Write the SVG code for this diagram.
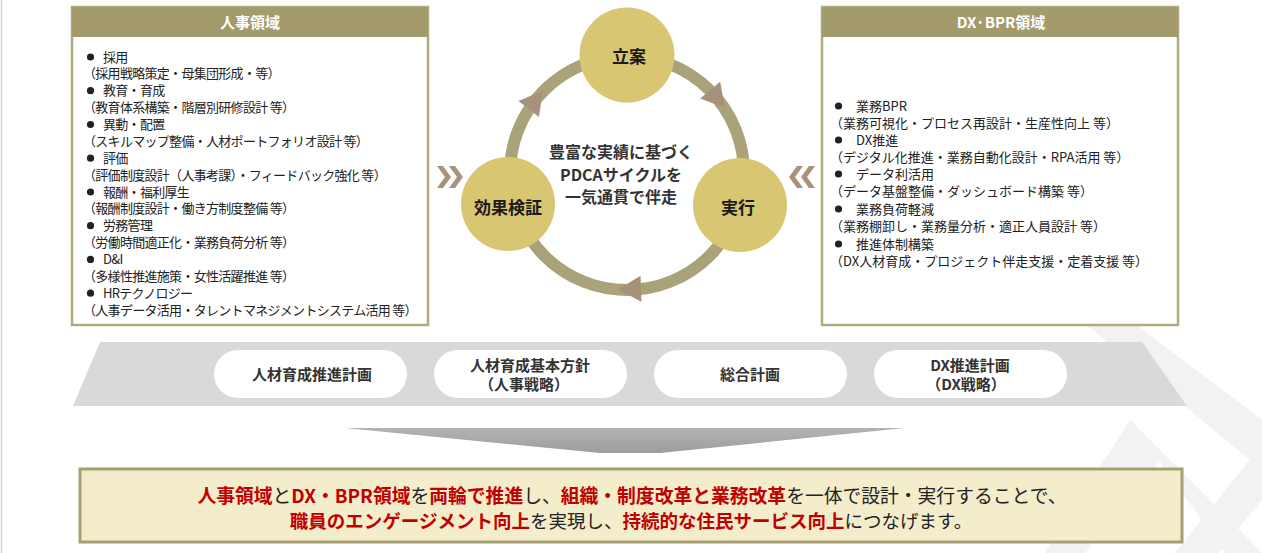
<svg xmlns="http://www.w3.org/2000/svg" width="1262" height="553" viewBox="0 0 1262 553">
<defs>
<style>
.jp{font-family:"Noto Sans CJK JP","Noto Sans",sans-serif;}
.box{fill:#ffffff;stroke:#b3ab80;stroke-width:2.5;}
.hdr{fill:#a39b6b;}
.hdrt{font-size:15px;font-weight:700;fill:#ffffff;text-anchor:middle;}
.li{font-size:13px;fill:#222222;letter-spacing:-0.7px;}
.ri{font-size:13px;fill:#222222;}
.bul{fill:#222222;}
.node{fill:#d8c672;}
.nodet{font-size:17px;font-weight:700;fill:#1a1a1a;text-anchor:middle;}
.ring{fill:none;stroke:#aaa37a;stroke-width:12;}
.ah{fill:#a8917a;}
.chev{fill:#a8927a;}
.pill{fill:#ffffff;}
.pillt{font-size:15px;font-weight:700;fill:#333333;text-anchor:middle;}
.red{fill:#c00000;font-weight:700;}
.blk{fill:#222222;font-weight:400;}
.wm{fill:#f2f2f2;}
</style>
<linearGradient id="dg" x1="0" y1="0" x2="0" y2="1">
<stop offset="0" stop-color="#b3b3b3"/>
<stop offset="1" stop-color="#9d9d9d"/>
</linearGradient>
</defs>
<rect x="0" y="0" width="1262" height="553" fill="#ffffff"/>
<line x1="1.5" y1="0" x2="1.5" y2="553" stroke="#d6d6d6" stroke-width="1.5"/>

<!-- watermark -->
<g id="watermark">
<polygon class="wm" points="1088,326 1138,326 1262,420 1262,470"/>
<polygon class="wm" points="1130,420 1165,455 1085,553 1045,553"/>
<polygon class="wm" points="1130,420 1165,455 1262,553 1225,553"/>
<polygon class="wm" points="1262,445 1262,500 1218,553 1175,553"/>
</g>

<!-- left box -->
<g id="hr-domain">
<rect class="box" x="72" y="7" width="356" height="318"/>
<rect class="hdr" x="72" y="7" width="356" height="30"/>
<text class="jp hdrt" x="250" y="28">人事領域</text>
<g class="jp li">
<circle class="bul" cx="90.5" cy="57" r="3.6"/>
<text x="103" y="61.5">採用</text>
<text x="83" y="78.4">（採用戦略策定・母集団形成・等）</text>
<circle class="bul" cx="90.5" cy="90.7" r="3.6"/>
<text x="103" y="95.2">教育・育成</text>
<text x="83" y="112.1">（教育体系構築・階層別研修設計 等）</text>
<circle class="bul" cx="90.5" cy="124.5" r="3.6"/>
<text x="103" y="129">異動・配置</text>
<text x="83" y="145.8">（スキルマップ整備・人材ポートフォリオ設計 等）</text>
<circle class="bul" cx="90.5" cy="158.2" r="3.6"/>
<text x="103" y="162.7">評価</text>
<text x="83" y="179.6">（評価制度設計（人事考課）・フィードバック強化 等）</text>
<circle class="bul" cx="90.5" cy="192" r="3.6"/>
<text x="103" y="196.5">報酬・福利厚生</text>
<text x="83" y="213.3">（報酬制度設計・働き方制度整備 等）</text>
<circle class="bul" cx="90.5" cy="225.7" r="3.6"/>
<text x="103" y="230.2">労務管理</text>
<text x="83" y="247.1">（労働時間適正化・業務負荷分析 等）</text>
<circle class="bul" cx="90.5" cy="259.4" r="3.6"/>
<text x="103" y="263.9">D&amp;I</text>
<text x="83" y="280.8">（多様性推進施策・女性活躍推進 等）</text>
<circle class="bul" cx="90.5" cy="293.2" r="3.6"/>
<text x="103" y="297.7">HRテクノロジー</text>
<text x="83" y="314.5">（人事データ活用・タレントマネジメントシステム活用 等）</text>
</g>
</g>

<!-- right box -->
<g id="dx-domain">
<rect class="box" x="822" y="7" width="356" height="318"/>
<rect class="hdr" x="822" y="7" width="356" height="30"/>
<text class="jp hdrt" x="1001" y="28">DX·BPR領域</text>
<g class="jp ri">
<circle class="bul" cx="838.5" cy="106" r="3.6"/>
<text x="856" y="110.5">業務BPR</text>
<text x="830" y="127.5">（業務可視化・プロセス再設計・生産性向上 等）</text>
<circle class="bul" cx="838.5" cy="140" r="3.6"/>
<text x="856" y="144.5">DX推進</text>
<text x="830" y="161.5">（デジタル化推進・業務自動化設計・RPA活用 等）</text>
<circle class="bul" cx="838.5" cy="174" r="3.6"/>
<text x="856" y="178.5">データ利活用</text>
<text x="830" y="195.5">（データ基盤整備・ダッシュボード構築 等）</text>
<circle class="bul" cx="838.5" cy="209" r="3.6"/>
<text x="856" y="213.5">業務負荷軽減</text>
<text x="830" y="230.5">（業務棚卸し・業務量分析・適正人員設計 等）</text>
<circle class="bul" cx="838.5" cy="244" r="3.6"/>
<text x="856" y="248.5">推進体制構築</text>
<text x="830" y="265.5">（DX人材育成・プロジェクト伴走支援・定着支援 等）</text>
</g>
</g>

<!-- connectors: PDCA ring, arrowheads, chevrons -->
<g id="connectors">
<circle class="ring" cx="627" cy="173" r="117"/>
<polygon class="ah" points="13,0 -10,-13 -10,13" transform="translate(716.6,97.8) rotate(50)"/>
<polygon class="ah" points="13,0 -10,-13 -10,13" transform="translate(631,289) rotate(178)"/>
<polygon class="ah" points="13,0 -10,-13 -10,13" transform="translate(534.8,101) rotate(308)"/>
<polygon class="chev" points="437,166 443,166 451,177 443,188 437,188 445,177"/>
<polygon class="chev" points="449,166 455,166 463,177 455,188 449,188 457,177"/>
<polygon class="chev" points="815,166 809,166 801,177 809,188 815,188 807,177"/>
<polygon class="chev" points="803,166 797,166 789,177 797,188 803,188 795,177"/>
</g>

<g id="center-label">
<text class="jp" x="621" y="158" font-size="16" font-weight="700" fill="#333333" text-anchor="middle">豊富な実績に基づく</text>
<text class="jp" x="621" y="181" font-size="16" font-weight="700" fill="#333333" text-anchor="middle">PDCAサイクルを</text>
<text class="jp" x="621" y="203" font-size="16" font-weight="700" fill="#333333" text-anchor="middle">一気通貫で伴走</text>
</g>

<g id="node-plan">
<circle class="node" cx="627" cy="55" r="47.5"/>
<text class="jp nodet" x="629" y="63">立案</text>
</g>
<g id="node-do">
<circle class="node" cx="740" cy="205" r="47"/>
<text class="jp nodet" x="738" y="214">実行</text>
</g>
<g id="node-check">
<circle class="node" cx="508" cy="204" r="47"/>
<text class="jp nodet" x="508" y="214">効果検証</text>
</g>

<!-- plan band -->
<g id="plan-band">
<polygon points="73,406 100,342 1142,342 1187,406" fill="#d9d9d9"/>
</g>
<g id="pill-1">
<rect class="pill" x="214" y="350" width="193" height="48" rx="24"/>
<text class="jp pillt" x="312" y="380">人材育成推進計画</text>
</g>
<g id="pill-2">
<rect class="pill" x="434" y="350" width="193" height="48" rx="24"/>
<text class="jp pillt" x="530" y="371">人材育成基本方針</text>
<text class="jp pillt" x="524" y="390">（人事戦略）</text>
</g>
<g id="pill-3">
<rect class="pill" x="654" y="350" width="193" height="48" rx="24"/>
<text class="jp pillt" x="750" y="380">総合計画</text>
</g>
<g id="pill-4">
<rect class="pill" x="874" y="350" width="193" height="48" rx="24"/>
<text class="jp pillt" x="970" y="371">DX推進計画</text>
<text class="jp pillt" x="966" y="390">（DX戦略）</text>
</g>

<g id="down-arrow">
<polygon points="345,428 905,428 660,453 600,453" fill="url(#dg)"/>
</g>

<g id="summary">
<rect x="80" y="469" width="1102" height="73" fill="#f3edcb" stroke="#a69f74" stroke-width="3"/>
<text class="jp" x="632" y="503" font-size="18.8" text-anchor="middle"><tspan class="red">人事領域</tspan><tspan class="blk">と</tspan><tspan class="red">DX・BPR領域</tspan><tspan class="blk">を</tspan><tspan class="red">両輪で推進</tspan><tspan class="blk">し、</tspan><tspan class="red">組織・制度改革と業務改革</tspan><tspan class="blk">を一体で設計・実行することで、</tspan></text>
<text class="jp" x="631" y="528" font-size="18.5" text-anchor="middle"><tspan class="red">職員のエンゲージメント向上</tspan><tspan class="blk">を実現し、</tspan><tspan class="red">持続的な住民サービス向上</tspan><tspan class="blk">につなげます。</tspan></text>
</g>
</svg>
